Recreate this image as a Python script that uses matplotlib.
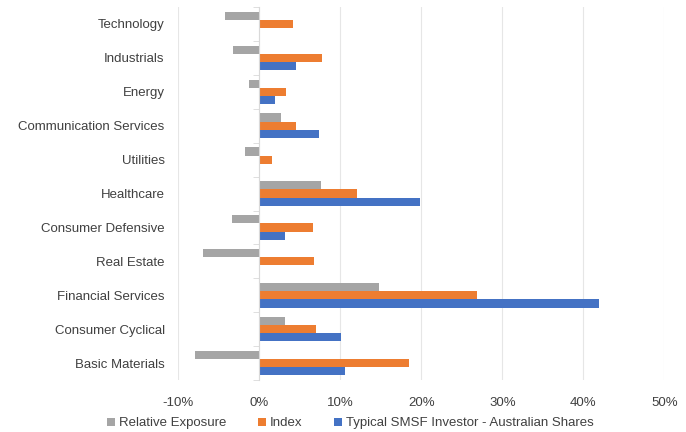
import matplotlib.pyplot as plt
import numpy as np
from matplotlib.ticker import PercentFormatter

plt.rcParams['font.family'] = ['Liberation Sans', 'DejaVu Sans']
plt.rcParams['axes.unicode_minus'] = False

sectors = ['Technology', 'Industrials', 'Energy', 'Communication Services', 'Utilities',
           'Healthcare', 'Consumer Defensive', 'Real Estate', 'Financial Services',
           'Consumer Cyclical', 'Basic Materials']
relative = [-4.2, -3.2, -1.2, 2.7, -1.7, 7.6, -3.4, -6.9, 14.8, 3.2, -7.9]
index = [4.2, 7.8, 3.3, 4.6, 1.6, 12.1, 6.7, 6.8, 26.9, 7.0, 18.5]
smsf = [0.0, 4.6, 2.0, 7.4, 0.0, 19.8, 3.2, 0.0, 41.9, 10.1, 10.6]

series = [('Relative Exposure', relative, '#a5a5a5'),
          ('Index', index, '#ed7d31'),
          ('Typical SMSF Investor - Australian Shares', smsf, '#4472c4')]

fig = plt.figure(figsize=(6.86, 4.32), dpi=100)
ax = fig.add_axes([0.2595, 0.12, 0.709, 0.864])

y = np.arange(len(sectors))
h = 0.24
for i, (name, vals, col) in enumerate(series):
    ax.barh(y + (i - 1) * h, vals, height=h, color=col, label=name, zorder=3)

ax.set_xlim(-10, 50)
ax.set_xticks(np.arange(-10, 51, 10))
ax.xaxis.set_major_formatter(PercentFormatter(decimals=0))
ax.set_ylim(len(sectors) - 0.5, -0.5)
ax.grid(axis='x', color='#e6e6e6', linewidth=0.8, zorder=0)

for s in ['top', 'right', 'bottom']:
    ax.spines[s].set_visible(False)
ax.spines['left'].set_position(('data', 0))
ax.spines['left'].set_color('#d9d9d9')
ax.spines['left'].set_zorder(4)

ax.set_yticks(y)
ax.set_yticklabels(sectors)
ax.set_yticks(np.arange(-0.5, len(sectors), 1), minor=True)
ax.tick_params(axis='y', which='major', length=0, pad=68, labelsize=9.5, labelcolor='#404040')
ax.tick_params(axis='y', which='minor', length=4, color='#d9d9d9', direction='out')
ax.tick_params(axis='x', length=0, pad=12, labelsize=9.5, labelcolor='#404040')

ax.legend(loc='upper center', bbox_to_anchor=(0.355, -0.075), ncol=3, frameon=False,
          fontsize=9.5, handlelength=0.6, handleheight=0.6, columnspacing=2.4,
          handletextpad=0.3, labelcolor='#404040', borderpad=0.2)

fig.savefig('out.png', dpi=100)
